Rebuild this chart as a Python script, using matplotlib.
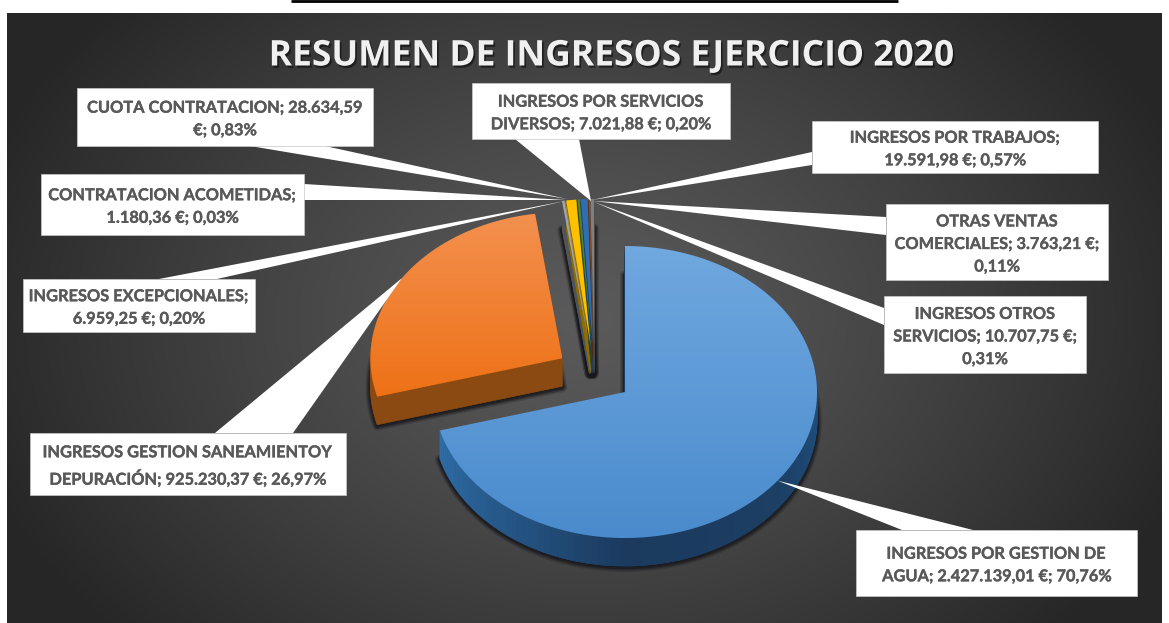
"""Resumen de ingresos 2020: exploded 3D pie with white callout labels."""

import matplotlib
matplotlib.use("Agg")
import matplotlib.pyplot as plt
import matplotlib.patheffects as pe
import numpy as np
from matplotlib.patches import Polygon, Rectangle

plt.rcParams["font.family"] = ["Lato", "DejaVu Sans"]

TITLE = "RESUMEN DE INGRESOS EJERCICIO 2020"

# clockwise from 12 o'clock
VALUES = [2427139.01, 925230.37, 6959.25, 1180.36, 28634.59, 7021.88,
          19591.98, 3763.21, 10707.75]
LABELS = [
    "INGRESOS POR GESTION DE\nAGUA; 2.427.139,01 €; 70,76%",
    "INGRESOS GESTION SANEAMIENTOY\nDEPURACIÓN; 925.230,37 €; 26,97%",
    "INGRESOS EXCEPCIONALES;\n6.959,25 €; 0,20%",
    "CONTRATACION ACOMETIDAS;\n1.180,36 €; 0,03%",
    "CUOTA CONTRATACION; 28.634,59\n€; 0,83%",
    "INGRESOS POR SERVICIOS\nDIVERSOS; 7.021,88 €; 0,20%",
    "INGRESOS POR TRABAJOS;\n19.591,98 €; 0,57%",
    "OTRAS VENTAS\nCOMERCIALES; 3.763,21 €;\n0,11%",
    "INGRESOS OTROS\nSERVICIOS; 10.707,75 €;\n0,31%",
]
COLORS = ["#5B9BD5", "#ED7D31", "#A5A5A5", "#8FAADC", "#FFC000", "#548235",
          "#2F6EB5", "#9E480E", "#7F7F7F"]
WALLS = ["#1C3F63", "#8A4A12", "#555555", "#44546A", "#8F6C00", "#2F4A1E",
         "#1A3E66", "#58280A", "#474747"]

# label box x0, y0, x1, y1 in pixels
BOXES = [
    (856, 530, 1137, 596), (30, 433, 346, 495), (23, 279, 255, 332),
    (41, 174, 304, 235), (77, 88, 373, 146), (472, 83, 730, 139),
    (812, 121, 1098, 173), (886, 204, 1108, 280), (884, 296, 1086, 373),
]
# where each leader meets its box
LEADER_BASES = [
    ((902, 530), (973, 530)), ((215, 433), (293, 433)), ((159, 279), (217, 279)),
    ((304, 184), (304, 200)), ((250, 146), (325, 146)), ((515, 139), (579, 139)),
    ((812, 152), (812, 165)), ((886, 217), (886, 235)), ((884, 308), (884, 325)),
]
# the thin slices' leaders bunch up at two spots; big slices use the arc midpoint
LEADER_TIPS = [None, None, (565, 201), (565, 200), (567, 199), (591, 201),
               (592, 200), (593, 201), (594, 202)]

W, H = 1169, 623
PIE_X, PIE_Y = 594.5, 374.3
RX, RY = 192, 146
EXPLODE = 0.2
DEPTH = 28
TEXT_COLOR = "#595959"


def point(theta, cx, cy):
    t = np.radians(theta)
    return cx + RX * np.sin(t), cy - RY * np.cos(t)


def face(a0, a1, cx, cy):
    th = np.linspace(a0, a1, max(3, int(a1 - a0) * 2))
    xs, ys = point(th, cx, cy)
    return np.column_stack([np.r_[cx, xs], np.r_[cy, ys]])


def gradient(ax, pts, top, bottom, z):
    y0, y1 = pts[:, 1].min(), pts[:, 1].max()
    c0, c1 = matplotlib.colors.to_rgb(top), matplotlib.colors.to_rgb(bottom)
    grad = np.linspace(c0, c1, 200)[:, None, :]
    im = ax.imshow(grad, extent=[pts[:, 0].min(), pts[:, 0].max(), y1, y0],
                   aspect="auto", zorder=z, interpolation="bilinear")
    im.set_clip_path(Polygon(pts, transform=ax.transData))


fig = plt.figure(figsize=(W / 100, H / 100), dpi=100, facecolor="white")
ax = fig.add_axes([0, 0, 1, 1])

# radial background
yy, xx = np.mgrid[13:623, 7:1162]
r = np.clip(np.hypot((xx - 585) / 640, (yy - 318) / 470), 0, 1)
shade = 0x5A - (0x5A - 0x26) * r ** 1.25
ax.imshow(np.dstack([shade, shade, shade]) / 255,
          extent=[7, 1162, 623, 13], aspect="auto", zorder=0)

ax.plot([291, 898], [1, 1], color="black", lw=2, solid_capstyle="butt", zorder=1)
ax.text(610, 56.5, TITLE, ha="center", va="center", fontsize=25.5, weight="bold",
        family=["Open Sans", "DejaVu Sans"], color="#F0F0F0", zorder=8,
        path_effects=[pe.withSimplePatchShadow(offset=(1.2, -1.6), shadow_rgbFace="black",
                                               alpha=0.5)])

total = sum(VALUES)
edges = np.r_[0, np.cumsum(VALUES)] / total * 360
mids = (edges[:-1] + edges[1:]) / 2
centers = [(PIE_X + EXPLODE * RX * np.sin(np.radians(m)),
            PIE_Y - EXPLODE * RY * np.cos(np.radians(m))) for m in mids]

# soft shadows and extruded walls, back slices first
order = [2, 3, 4, 5, 6, 7, 8, 1, 0]
for i in order:
    cx, cy = centers[i]
    pts = face(edges[i], edges[i + 1], cx, cy)
    sh = pts + [0, DEPTH + 1]
    for lw, al in ((7, 0.22), (5, 0.35), (3, 0.6)):
        ax.add_patch(Polygon(sh, closed=True, facecolor="#17171C", edgecolor="#17171C",
                             lw=lw, alpha=al, joinstyle="round", zorder=2))

for i in order:
    cx, cy = centers[i]
    pts = face(edges[i], edges[i + 1], cx, cy)
    for d in range(DEPTH, 0, -2):
        ax.add_patch(Polygon(pts + [0, d], closed=True, facecolor=WALLS[i],
                             edgecolor=WALLS[i], lw=0.5, zorder=3))

# shaded outer wall of the big blue slice
cx, cy = centers[0]
rim_th = np.linspace(90, edges[1], 90)
rim_ang = [90, 130, 180, 210, edges[1]]
rim_rgb = np.array([matplotlib.colors.to_rgb(c) for c in
                    ("#1F5080", "#1C3F63", "#1B3A5E", "#23517F", "#2F6EA8")])
for a0, a1 in zip(rim_th[:-1], rim_th[1:]):
    x0, y0 = point(a0, cx, cy)
    x1, y1 = point(a1, cx, cy)
    col = [np.interp((a0 + a1) / 2, rim_ang, rim_rgb[:, k]) for k in range(3)]
    ax.add_patch(Polygon([(x0, y0), (x1, y1), (x1, y1 + DEPTH), (x0, y0 + DEPTH)],
                         closed=True, facecolor=col, edgecolor=col, lw=0.4, zorder=3.5))

# top faces
gradient(ax, face(edges[0], edges[1], *centers[0]), "#70A8DF", "#4A8BCD", 4)
gradient(ax, face(edges[1], edges[2], *centers[1]), "#F3904F", "#EE7116", 4)
for i in range(2, len(VALUES)):
    ax.add_patch(Polygon(face(edges[i], edges[i + 1], *centers[i]), closed=True,
                         facecolor=COLORS[i], edgecolor="none", zorder=4))

# callouts
for i, (label, box, base) in enumerate(zip(LABELS, BOXES, LEADER_BASES)):
    x0, y0, x1, y1 = box
    tip = LEADER_TIPS[i] or point(mids[i], *centers[i])
    ax.add_patch(Polygon([base[0], tip, base[1]], closed=True, facecolor="white",
                         edgecolor="none", zorder=5))
    ax.add_patch(Rectangle((x0, y0), x1 - x0, y1 - y0, facecolor="white",
                           edgecolor="#C8C8C8", lw=0.5, zorder=6))
    ax.text((x0 + x1) / 2, (y0 + y1) / 2 + 3, label, ha="center", va="center",
            fontsize=11.8, weight="bold", color=TEXT_COLOR, linespacing=1.78, zorder=7,
            path_effects=[pe.withStroke(linewidth=0.25, foreground=TEXT_COLOR)])

ax.set_xlim(0, W)
ax.set_ylim(H, 0)
ax.axis("off")
fig.savefig("out.png", dpi=100, facecolor="white")
